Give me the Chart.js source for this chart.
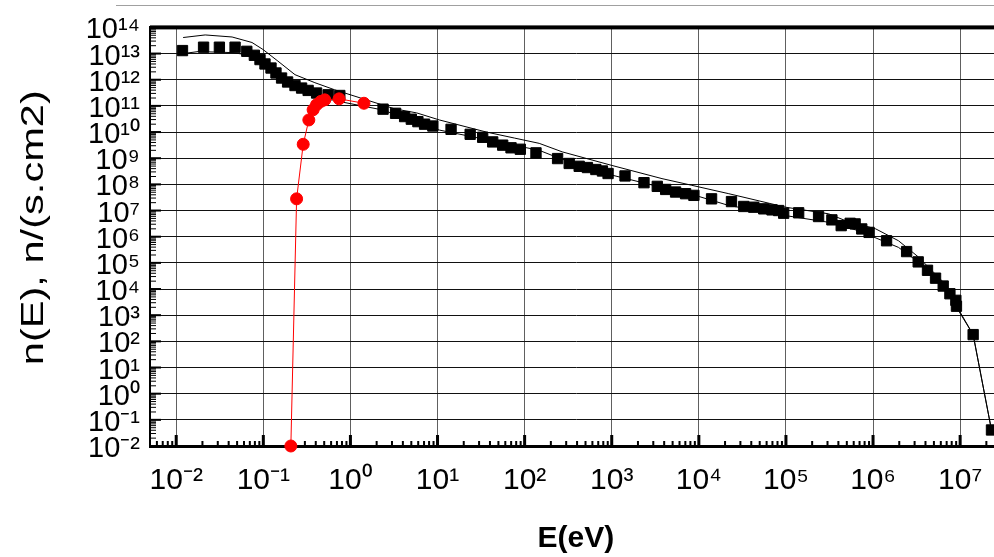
<!DOCTYPE html>
<html><head><meta charset="utf-8">
<script src="https://cdn.jsdelivr.net/npm/chart.js@4/dist/chart.umd.min.js"></script>
<style>
html,body{margin:0;padding:0;background:#fff;overflow:hidden;width:994px;height:557px;}
#wrap{position:relative;width:1010px;height:557px;}
#topline{position:absolute;left:116px;top:5px;width:900px;height:1px;background:#a0a0a0;}
canvas{display:block;}
</style></head><body>
<div id="wrap"><canvas id="c" width="1010" height="557"></canvas><div id="topline"></div></div>
<script>
// ---- data ----
const energySquares = [0.0118, 0.0206, 0.0313, 0.0474, 0.0646, 0.0789, 0.0916, 0.1045, 0.1225, 0.1397, 0.162, 0.190, 0.231, 0.275, 0.327, 0.409, 0.555, 0.755, 2.37, 3.30, 4.19, 5.00, 5.95, 7.10, 8.84, 14.3, 23.7, 33.0, 43.0, 56.0, 69.8, 89.2, 135, 239, 325, 423, 526, 657, 782, 908, 1421, 2346, 3333, 4159, 5410, 7047, 8777, 1.40e4, 2.37e4, 3.28e4, 4.27e4, 5.56e4, 6.92e4, 8.25e4, 9.42e4, 1.40e5, 2.37e5, 3.37e5, 4.31e5, 5.46e5, 6.23e5, 7.42e5, 9.01e5, 1.43e6, 2.43e6, 3.30e6, 4.22e6, 5.22e6, 6.39e6, 7.63e6, 8.93e6, 9.07e6, 1.41e7, 2.29e7];
const fluxSquares = [1.30e13, 1.75e13, 1.75e13, 1.75e13, 1.22e13, 8.6e12, 5.9e12, 4.0e12, 2.8e12, 1.81e12, 1.16e12, 8.2e11, 6.0e11, 4.8e11, 3.9e11, 3.1e11, 2.65e11, 2.5e11, 7.5e10, 5.2e10, 3.9e10, 3.1e10, 2.5e10, 2.0e10, 1.70e10, 1.27e10, 8.2e9, 6.3e9, 4.2e9, 3.16e9, 2.5e9, 2.2e9, 1.6e9, 9.7e8, 6.3e8, 4.9e8, 4.4e8, 3.7e8, 3.25e8, 2.6e8, 2.1e8, 1.16e8, 8.4e7, 6.4e7, 5.1e7, 4.4e7, 3.8e7, 2.8e7, 2.2e7, 1.43e7, 1.34e7, 1.16e7, 1.06e7, 1.0e7, 7.9e6, 8.2e6, 5.9e6, 4.4e6, 2.65e6, 3.25e6, 3.08e6, 1.98e6, 1.46e6, 7.0e5, 2.7e5, 1.09e5, 5.2e4, 2.6e4, 1.30e4, 6.6e3, 3.7e3, 2.2e3, 181, 0.041];

const energyUpper = [0.0120, 0.0215, 0.0438, 0.0741, 0.0991, 0.147, 0.231, 0.391, 0.662, 3.22, 5.75, 10.5, 36.4, 76.2, 147, 270, 982, 3774, 8318, 2.21e4, 9.93e4, 3.09e5, 4.83e5, 1.07e6, 1.96e6, 3.30e6, 6.39e6, 9.5e6, 1.41e7, 2.29e7];
const fluxUpper = [4.1e13, 5.15e13, 4.3e13, 2.65e13, 1.43e13, 5.15e12, 1.56e12, 7.7e11, 4.1e11, 7.7e10, 5.4e10, 2.9e10, 1.0e10, 5.9e9, 3.7e9, 1.75e9, 5.4e8, 1.66e8, 9.2e7, 4.4e7, 1.34e7, 7.5e6, 4.1e6, 2.0e6, 7.0e5, 1.70e5, 1.86e4, 1.56e3, 181, 0.041];

const energyLower = [0.0120, 0.0179, 0.0438, 0.0617, 0.0916, 0.155, 0.263, 0.755, 2.34, 10.5, 147, 250, 933, 1.0e4, 2.21e4, 9.93e4, 3.09e5, 6.8e5, 1.96e6, 3.30e6, 6.39e6, 9.0e6, 1.41e7, 2.29e7];
const fluxLower = [1.0e13, 1.19e13, 1.09e13, 9.2e12, 4.9e12, 1.19e12, 4.9e11, 1.46e11, 7.0e10, 1.19e10, 2.0e9, 1.0e9, 2.4e8, 3.45e7, 1.56e7, 6.4e6, 3.55e6, 1.70e6, 3.9e5, 1.09e5, 1.30e4, 2.4e3, 181, 0.041];

const energyRed = [0.207, 0.241, 0.287, 0.333, 0.373, 0.408, 0.457, 0.508, 0.741, 1.43];
const fluxRed = [0.01, 2.8e7, 3.4e9, 2.9e10, 7.1e10, 1.1e11, 1.48e11, 1.7e11, 1.86e11, 1.26e11];

const xTickExponents = [-2, -1, 0, 1, 2, 3, 4, 5, 6, 7];
const yTickExponents = [-2, -1, 0, 1, 2, 3, 4, 5, 6, 7, 8, 9, 10, 11, 12, 13, 14];
const xTitle = 'E(eV)';
const yTitle = 'n(E), n/(s.cm2)';

// ---- helpers ----
const SUP = {'-':'\u207B','0':'\u2070','1':'\u00B9','2':'\u00B2','3':'\u00B3','4':'\u2074','5':'\u2075','6':'\u2076','7':'\u2077','8':'\u2078','9':'\u2079'};
function pow10Label(v) {
  const e = Math.round(Math.log10(v));
  return '10' + String(e).split('').map(c => SUP[c]).join('');
}
const pts = (xs, ys) => xs.map((x, i) => ({x: x, y: ys[i]}));
const FONT = "'Liberation Sans', Arial, sans-serif";
Chart.defaults.font.family = FONT;
Chart.defaults.color = '#000';

const axisDecor = {
  id: 'axisDecor',
  beforeDraw(chart) {
    // stretch the y-axis title along its length, as in the original figure
    const s = chart.scales.y;
    if (s && !s._titlePatched) {
      const orig = s.drawTitle;
      s.drawTitle = function () {
        const c = this.ctx;
        const cy = (this.top + this.bottom) / 2;
        c.save();
        c.translate(0, cy - 9);
        c.scale(1, 1.3);
        c.translate(0, -cy);
        orig.call(this);
        c.restore();
      };
      s._titlePatched = true;
    }
  },
  beforeDatasetsDraw(chart) {
    const {ctx, chartArea: a, scales: {x, y}} = chart;
    ctx.save();
    ctx.fillStyle = '#000';
    for (let d = -3; d <= 7; d++) {
      for (let k = 1; k <= 9; k++) {
        const v = k * Math.pow(10, d);
        if (v < x.min || v > x.max) continue;
        const px = x.getPixelForValue(v);
        if (k === 1) ctx.fillRect(px - 1.5, a.bottom - 11, 3, 11);
        else ctx.fillRect(px - 1, a.bottom - 5, 2, 5);
      }
    }
    for (let d = -2; d <= 14; d++) {
      for (let k = 1; k <= 9; k++) {
        const v = k * Math.pow(10, d);
        if (v < y.min || v > y.max) continue;
        const py = y.getPixelForValue(v);
        if (k === 1) ctx.fillRect(a.left, py - 1, 11, 2);
        else ctx.fillRect(a.left, py - 0.5, 6, 1);
      }
    }
    ctx.fillRect(a.left, a.top - 2, a.right - a.left, 4);
    ctx.restore();
  }
};

new Chart(document.getElementById('c'), {
  type: 'scatter',
  data: {
    datasets: [
      { label: 'red', data: pts(energyRed, fluxRed), showLine: true, borderColor: '#ff0000', borderWidth: 1,
        pointStyle: 'circle', pointRadius: 6, pointBackgroundColor: '#ff0000', pointBorderColor: '#ff0000', pointBorderWidth: 1, clip: false },
      { label: 'squares', data: pts(energySquares, fluxSquares), showLine: false,
        pointStyle: 'rect', pointRadius: 7.3, pointBackgroundColor: '#000', pointBorderColor: '#000', pointBorderWidth: 1, clip: false },
      { label: 'upper', data: pts(energyUpper, fluxUpper), showLine: true, borderColor: '#000', borderWidth: 1, pointRadius: 0, clip: false },
      { label: 'lower', data: pts(energyLower, fluxLower), showLine: true, borderColor: '#000', borderWidth: 1, pointRadius: 0, clip: false }
    ]
  },
  options: {
    responsive: false,
    animation: false,
    layout: { padding: { top: 27, right: 6, left: 0, bottom: 0 } },
    plugins: { legend: { display: false }, tooltip: { enabled: false } },
    scales: {
      x: {
        type: 'logarithmic', min: 0.005, max: 3e7,
        afterBuildTicks: (axis) => { axis.ticks = xTickExponents.map(e => ({ value: Math.pow(10, e) })); },
        afterFit: (axis) => { axis.height = 111; },
        grid: { color: '#606060', lineWidth: 1, drawTicks: false },
        border: { display: true, color: '#000', width: 3 },
        ticks: { autoSkip: false, maxRotation: 0, padding: 17, font: { size: 30 }, color: '#000', callback: (v) => pow10Label(v) },
        title: { display: true, text: xTitle, font: { size: 30, weight: 'bold' }, color: '#000', padding: { top: 0, bottom: 0 } }
      },
      y: {
        type: 'logarithmic', min: 0.01, max: 1e14,
        afterBuildTicks: (axis) => { axis.ticks = yTickExponents.map(e => ({ value: Math.pow(10, e) })); },
        afterFit: (axis) => { axis.width = 150; },
        grid: { color: '#111', lineWidth: 1, drawTicks: false },
        border: { display: true, color: '#000', width: 2 },
        ticks: { autoSkip: false, padding: 10, labelOffset: 3, font: { size: 29 }, color: '#000', callback: (v) => pow10Label(v) },
        title: { display: true, text: yTitle, font: { size: 32 }, color: '#000', padding: { top: 15, bottom: 0 } }
      }
    }
  },
  plugins: [axisDecor]
});
</script>
</body></html>
